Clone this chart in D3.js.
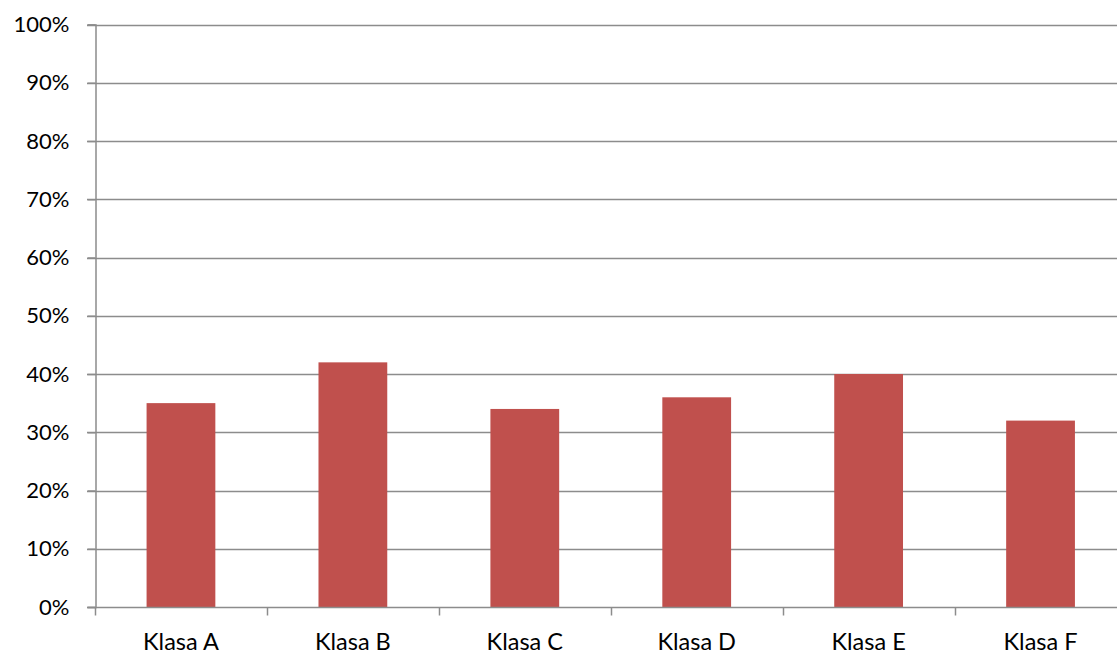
<!DOCTYPE html>
<html><head><meta charset="utf-8">
<script src="https://cdn.jsdelivr.net/npm/d3@7"></script>
<style>html,body{margin:0;padding:0;background:#fff;overflow:hidden}</style>
</head><body>
<svg id="c" width="1117" height="655"></svg>
<script>
const categories = ["Klasa A","Klasa B","Klasa C","Klasa D","Klasa E","Klasa F"];
const values = [0.35, 0.42, 0.34, 0.36, 0.40, 0.32];
const yTicks = [0,0.1,0.2,0.3,0.4,0.5,0.6,0.7,0.8,0.9,1.0];

const svg = d3.select("#c");
const mLeft = 95, mTop = 24.5, mBottom = 607, mRight = 1126.5;
const x = d3.scaleBand().domain(categories).range([mLeft, mRight]).paddingInner(0.6).paddingOuter(0.3);
const y = d3.scaleLinear().domain([0,1]).range([mBottom, mTop]);
const grid = "#8c8c8c";
const font = "Lato, 'Open Sans', sans-serif";

// gridlines
svg.append("g").selectAll("line").data(yTicks.slice(1)).join("line")
  .attr("x1", mLeft-8).attr("x2", 1117)
  .attr("y1", d=>Math.round(y(d))+0.5).attr("y2", d=>Math.round(y(d))+0.5)
  .attr("stroke", grid).attr("stroke-width", 1.5);

// bars
svg.append("g").selectAll("rect").data(categories).join("rect")
  .attr("x", d=>x(d)).attr("width", x.bandwidth())
  .attr("y", (d,i)=>y(values[i])).attr("height", (d,i)=>mBottom - y(values[i]))
  .attr("fill", "#c0504d");

// y axis
const ya = svg.append("g").attr("transform", `translate(${mLeft+0.5},0)`)
  .call(d3.axisLeft(y).tickValues(yTicks).tickFormat(d3.format(".0%")).tickSize(8).tickPadding(18));
ya.select(".domain").attr("stroke", grid).attr("stroke-width", 1.5);
ya.selectAll(".tick line").attr("stroke", grid).attr("stroke-width", 1.5);
ya.selectAll("text").attr("font-family", font).attr("font-size", 22).attr("fill", "#000");

// x axis
const step = x.step();
const xa = svg.append("g").attr("transform", `translate(0,${mBottom+0.5})`);
xa.append("line").attr("x1", mLeft-8).attr("x2", 1117).attr("stroke", grid).attr("stroke-width", 1.5);
const bounds = d3.range(categories.length+1).map(i => mLeft + i*step);
xa.selectAll("line.tk").data(bounds).join("line").attr("class","tk")
  .attr("x1", d=>Math.round(d)+0.5).attr("x2", d=>Math.round(d)+0.5).attr("y1", 0).attr("y2", 8)
  .attr("stroke", grid).attr("stroke-width", 1.5);
xa.selectAll("text").data(categories).join("text")
  .attr("x", d=>x(d)+x.bandwidth()/2).attr("y", 42.5)
  .attr("text-anchor","middle").attr("font-family", font).attr("font-size", 23.5).attr("fill","#000")
  .text(d=>d);
</script>
</body></html>
